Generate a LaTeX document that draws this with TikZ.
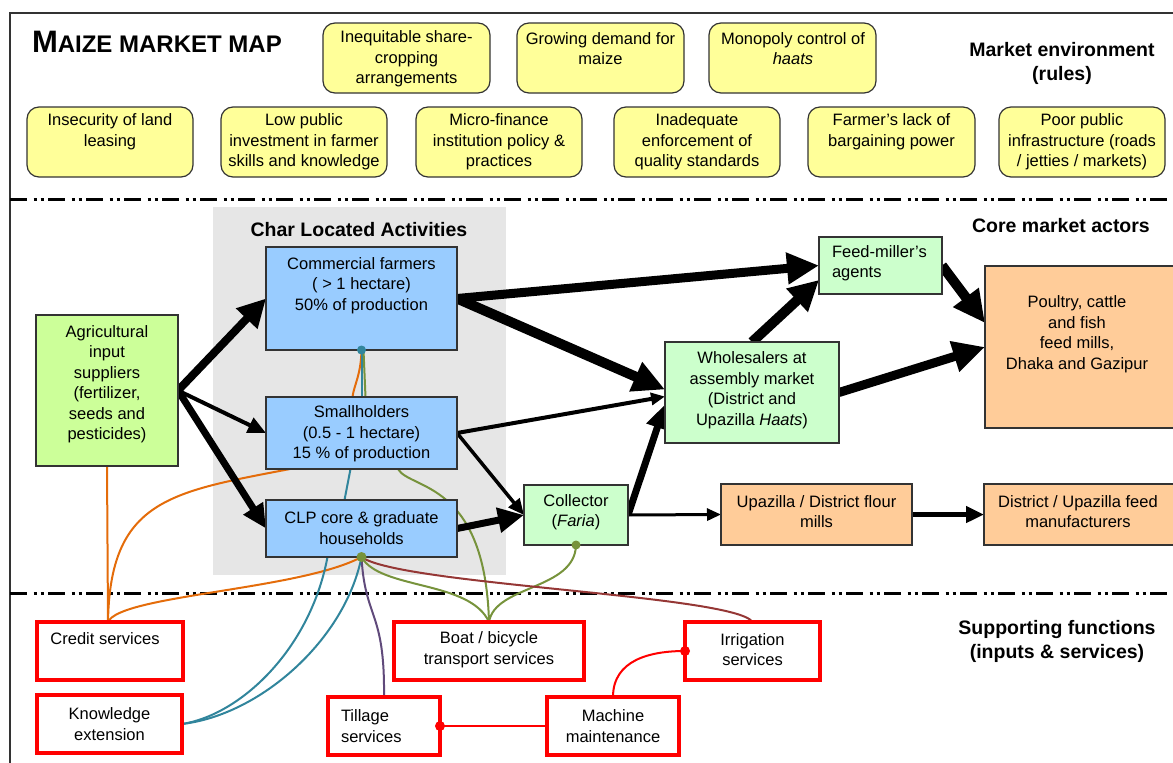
\documentclass[tikz,border=0pt]{standalone}
\usepackage{fontspec}
\setmainfont{Liberation Sans}
\usetikzlibrary{arrows.meta,calc}
\definecolor{cyel}{HTML}{FFFF99}
\definecolor{cblue}{HTML}{99CCFF}
\definecolor{cgreen}{HTML}{CCFFCC}
\definecolor{cagri}{HTML}{CCFF99}
\definecolor{corange}{HTML}{FFCC99}
\definecolor{cgray}{HTML}{E6E6E6}
\definecolor{lorange}{HTML}{E46C0A}
\definecolor{lteal}{HTML}{31859C}
\definecolor{lolive}{HTML}{77933C}
\definecolor{lmaroon}{HTML}{953735}
\definecolor{lpurple}{HTML}{604A7B}
\definecolor{edgec}{HTML}{333333}
\pgfdeclarelayer{bg}\pgfdeclarelayer{conn}\pgfdeclarelayer{top}
\pgfsetlayers{bg,conn,main,top}
\begin{document}
\begin{tikzpicture}[x=1pt,y=-1pt,
  every node/.style={inner sep=0pt,outer sep=0pt},
  txt/.style={font=\fontsize{16.5}{20.5}\selectfont,align=center},
  hdr/.style={font=\fontsize{19.5}{24}\selectfont\bfseries,align=center},
  ybox/.style={draw=edgec,line width=1.2pt,fill=cyel,rounded corners=12pt,minimum width=167pt,minimum height=70pt},
  pbox/.style={draw=edgec,line width=1.2pt},
  rbox/.style={draw=red,line width=3.5pt,fill=white},
  ar/.style n args={3}{line width=#1pt,-{Triangle[length=#2pt,width=#3pt]}},
  cv/.style={line width=2pt}]
\useasboundingbox (0,0) rectangle (1173,763);

% title and headers
\node[anchor=base west] (title) at (32,52) {\bfseries\fontsize{31}{31}\selectfont M\fontsize{24}{24}\selectfont AIZE MARKET MAP};
\node[hdr] (h1) at (1062,63) {Market environment\\(rules)};
\node[hdr] (h2) at (1061,226) {Core market actors};
\node[hdr] (h3) at (1057,641) {Supporting functions\\(inputs \& services)};
\node[hdr] (h4) at (359,230) {Char Located Activities};

% market environment boxes
\node[ybox] (y1) at (406.5,58) {};
\node[ybox] (y2) at (600.5,58) {};
\node[ybox] (y3) at (792.5,58) {};
\node[ybox,minimum width=166pt] (y4) at (110,142) {};
\node[ybox,minimum width=166pt] (y5) at (304,142) {};
\node[ybox,minimum width=166pt] (y6) at (499,142) {};
\node[ybox,minimum width=166pt] (y7) at (697,142) {};
\node[ybox] (y8) at (891.5,142) {};
\node[ybox,minimum width=166pt] (y9) at (1082,142) {};
\node[txt] (y1t) at (406.5,59) {Inequitable share-\\cropping\\arrangements};
\node[txt] (y2t) at (600.5,48.5) {Growing demand for\\maize};
\node[txt] (y3t) at (793,48.5) {Monopoly control of\\\textit{haats}};
\node[txt] (y4t) at (110,131.5) {Insecurity of land\\leasing};
\node[txt] (y5t) at (304,142) {Low public\\investment in farmer\\skills and knowledge};
\node[txt] (y6t) at (499,142) {Micro-finance\\institution policy \&\\practices};
\node[txt] (y7t) at (697,142) {Inadequate\\enforcement of\\quality standards};
\node[txt] (y8t) at (891.5,131.5) {Farmer’s lack of\\bargaining power};
\node[txt] (y9t) at (1082,142) {Poor public\\infrastructure (roads\\/ jetties / markets)};

% core market actors
\node[pbox,fill=cblue,minimum width=191pt,minimum height=103pt] (cf) at (361.5,298.5) {};
\node[pbox,fill=cblue,minimum width=191pt,minimum height=72pt] (sh) at (361.5,433) {};
\node[pbox,fill=cblue,minimum width=191pt,minimum height=57pt] (clp) at (361.5,528.5) {};
\node[pbox,fill=cagri,minimum width=142pt,minimum height=151pt] (ag) at (107,390.5) {};
\node[pbox,fill=cgreen,minimum width=123pt,minimum height=57pt] (fm) at (880.5,265.5) {};
\node[pbox,fill=cgreen,minimum width=174pt,minimum height=101pt] (wh) at (752,392.5) {};
\node[pbox,fill=cgreen,minimum width=104pt,minimum height=60pt] (col) at (576,515) {};
\node[pbox,fill=corange,minimum width=200pt,minimum height=162pt] (po) at (1085,347) {};
\node[pbox,fill=corange,minimum width=191pt,minimum height=61pt] (fl) at (816.5,514.5) {};
\node[pbox,fill=corange,minimum width=201pt,minimum height=61pt] (df) at (1084.5,514.5) {};
\node[txt] (cft) at (361.5,285.5) {Commercial farmers\\( > 1 hectare)\\50\% of production};
\node[txt] (sht) at (361.5,434) {Smallholders\\(0.5 - 1 hectare)\\15 \% of production};
\node[txt] (clpt) at (361.5,528) {CLP core \& graduate\\households};
\node[txt] (agt) at (107,384) {Agricultural\\input\\suppliers\\(fertilizer,\\seeds and\\pesticides)};
\node[txt,align=left,anchor=west] (fmt) at (832,263) {Feed-miller’s\\agents};
\node[txt] (wht) at (752,390) {Wholesalers at\\assembly market\\(District and\\Upazilla \textit{Haats})};
\node[txt] (colt) at (576,512) {Collector\\(\textit{Faria})};
\node[txt] (pot) at (1077,334) {Poultry, cattle\\and fish\\feed mills,\\Dhaka and Gazipur};
\node[txt] (flt) at (816.5,511.5) {Upazilla / District flour\\mills};
\node[txt] (dft) at (1078,511.5) {District / Upazilla feed\\manufacturers};

% supporting functions
\node[rbox,minimum width=146pt,minimum height=58pt] (cr) at (110,651) {};
\node[rbox,minimum width=145pt,minimum height=58pt] (kn) at (109.5,724) {};
\node[rbox,minimum width=190pt,minimum height=58pt] (bo) at (489,651) {};
\node[rbox,minimum width=135pt,minimum height=58pt] (ir) at (752.5,651) {};
\node[rbox,minimum width=112pt,minimum height=58pt] (ti) at (384,726) {};
\node[rbox,minimum width=132pt,minimum height=58pt] (ma) at (613,726) {};
\node[txt] (crt) at (105,639) {Credit services};
\node[txt] (knt) at (109.5,724) {Knowledge\\extension};
\node[txt] (bot) at (489,649.5) {Boat / bicycle\\transport services};
\node[txt] (irt) at (752.5,649.5) {Irrigation\\services};
\node[txt,align=left,anchor=west] (tit) at (341,726) {Tillage\\services};
\node[txt] (mat) at (613,726) {Machine\\maintenance};

\begin{pgfonlayer}{bg}
\fill[cgray] (213,207) rectangle (506,575);
\draw[edgec,line width=1.3pt] (10,790) -- (10,13) -- (1190,13);
\draw[line width=3pt,dash pattern=on 17pt off 6.5pt on 3pt off 4pt on 3pt off 4.5pt] (10,199) -- (1190,199);
\draw[line width=3pt,dash pattern=on 17pt off 6.5pt on 3pt off 4pt on 3pt off 4.5pt] (10,593) -- (1190,593);
\end{pgfonlayer}

\begin{pgfonlayer}{conn}
% supporting links
\draw[cv,lorange] (ag.south) -- ($(cr.north)+(-2,0)$);
\draw[cv,lorange] ($(cr.north)+(-2,0)$) .. controls (110,500) and (170,492) .. ($(sh.south west)+(24,0)$);
\draw[cv,lorange] ($(cr.north)+(-2,0)$) .. controls (120,595) and (300,590) .. (clp.south);
\draw[cv,lorange] (cf.south) .. controls (361,375) and (354,385) .. ($(sh.north)+(-9,0)$);
\draw[cv,lteal] (kn.east) .. controls (260,715) and (345,640) .. (clp.south);
\draw[cv,lteal] (kn.east) .. controls (240,715) and (310,650) .. ($(clp.south)+(-34,0)$);
\draw[cv,lteal] ($(clp.north)+(-17,0)$) -- ($(sh.south)+(-11,0)$);
\draw[cv,lteal] (sh.north) -- (cf.south);
\draw[cv,lolive] ($(sh.south)+(36.5,0)$) .. controls (410,490) and (485,480) .. (bo.north);
\draw[cv,lolive] (clp.south) .. controls (380,590) and (470,580) .. (bo.north);
\draw[cv,lolive] (bo.north) .. controls (495,585) and (575,590) .. (col.south);
\draw[cv,lolive] ($(sh.north)+(4,0)$) -- ($(cf.south)+(2,0)$);
\draw[cv,lmaroon] (clp.south) .. controls (400,585) and (735,595) .. (ir.north);
\draw[cv,lpurple] (clp.south) .. controls (365,620) and (385,610) .. (ti.north);
\draw[cv,red] (ti.east) -- (ma.west);
\draw[cv,red] (ma.north) .. controls (613,660) and (650,651) .. (ir.west);
% market flows
\draw[ar={8}{28}{28}] (ag.east) -- (cf.west);
\draw[ar={4}{18}{16}] (ag.east) -- (sh.west);
\draw[ar={7}{24}{22}] (ag.east) -- (clp.west);
\draw[ar={9}{32}{30}] (cf.east) -- (fm.west);
\draw[ar={10}{32}{30}] (cf.east) -- ($(wh.west)+(0,-3)$);
\draw[ar={4}{14}{12}] (sh.east) -- ($(wh.west)+(0,4)$);
\draw[ar={3.5}{16}{14}] (sh.east) -- (col.west);
\draw[ar={7}{26}{24}] (clp.east) -- (col.west);
\draw[ar={7}{24}{22}] (col.east) -- ($(wh.west)+(0,12)$);
\draw[ar={3}{14}{12}] (col.east) -- (fl.west);
\draw[ar={10}{30}{30}] (wh.north) -- ($(fm.south west)+(0,-14)$);
\draw[ar={9}{32}{30}] (wh.east) -- (po.west);
\draw[ar={10}{32}{30}] (fm.east) -- ($(po.west)+(0,-24)$);
\draw[ar={5}{18}{16}] (fl.east) -- (df.west);
\end{pgfonlayer}

\begin{pgfonlayer}{top}
\fill[lteal] (cf.south) circle (4.5pt);
\fill[lolive] (clp.south) circle (5pt);
\fill[lolive] (col.south) circle (4.5pt);
\fill[red] (ti.east) circle (5pt);
\fill[red] (ir.west) circle (5pt);
\end{pgfonlayer}
\end{tikzpicture}
\end{document}
